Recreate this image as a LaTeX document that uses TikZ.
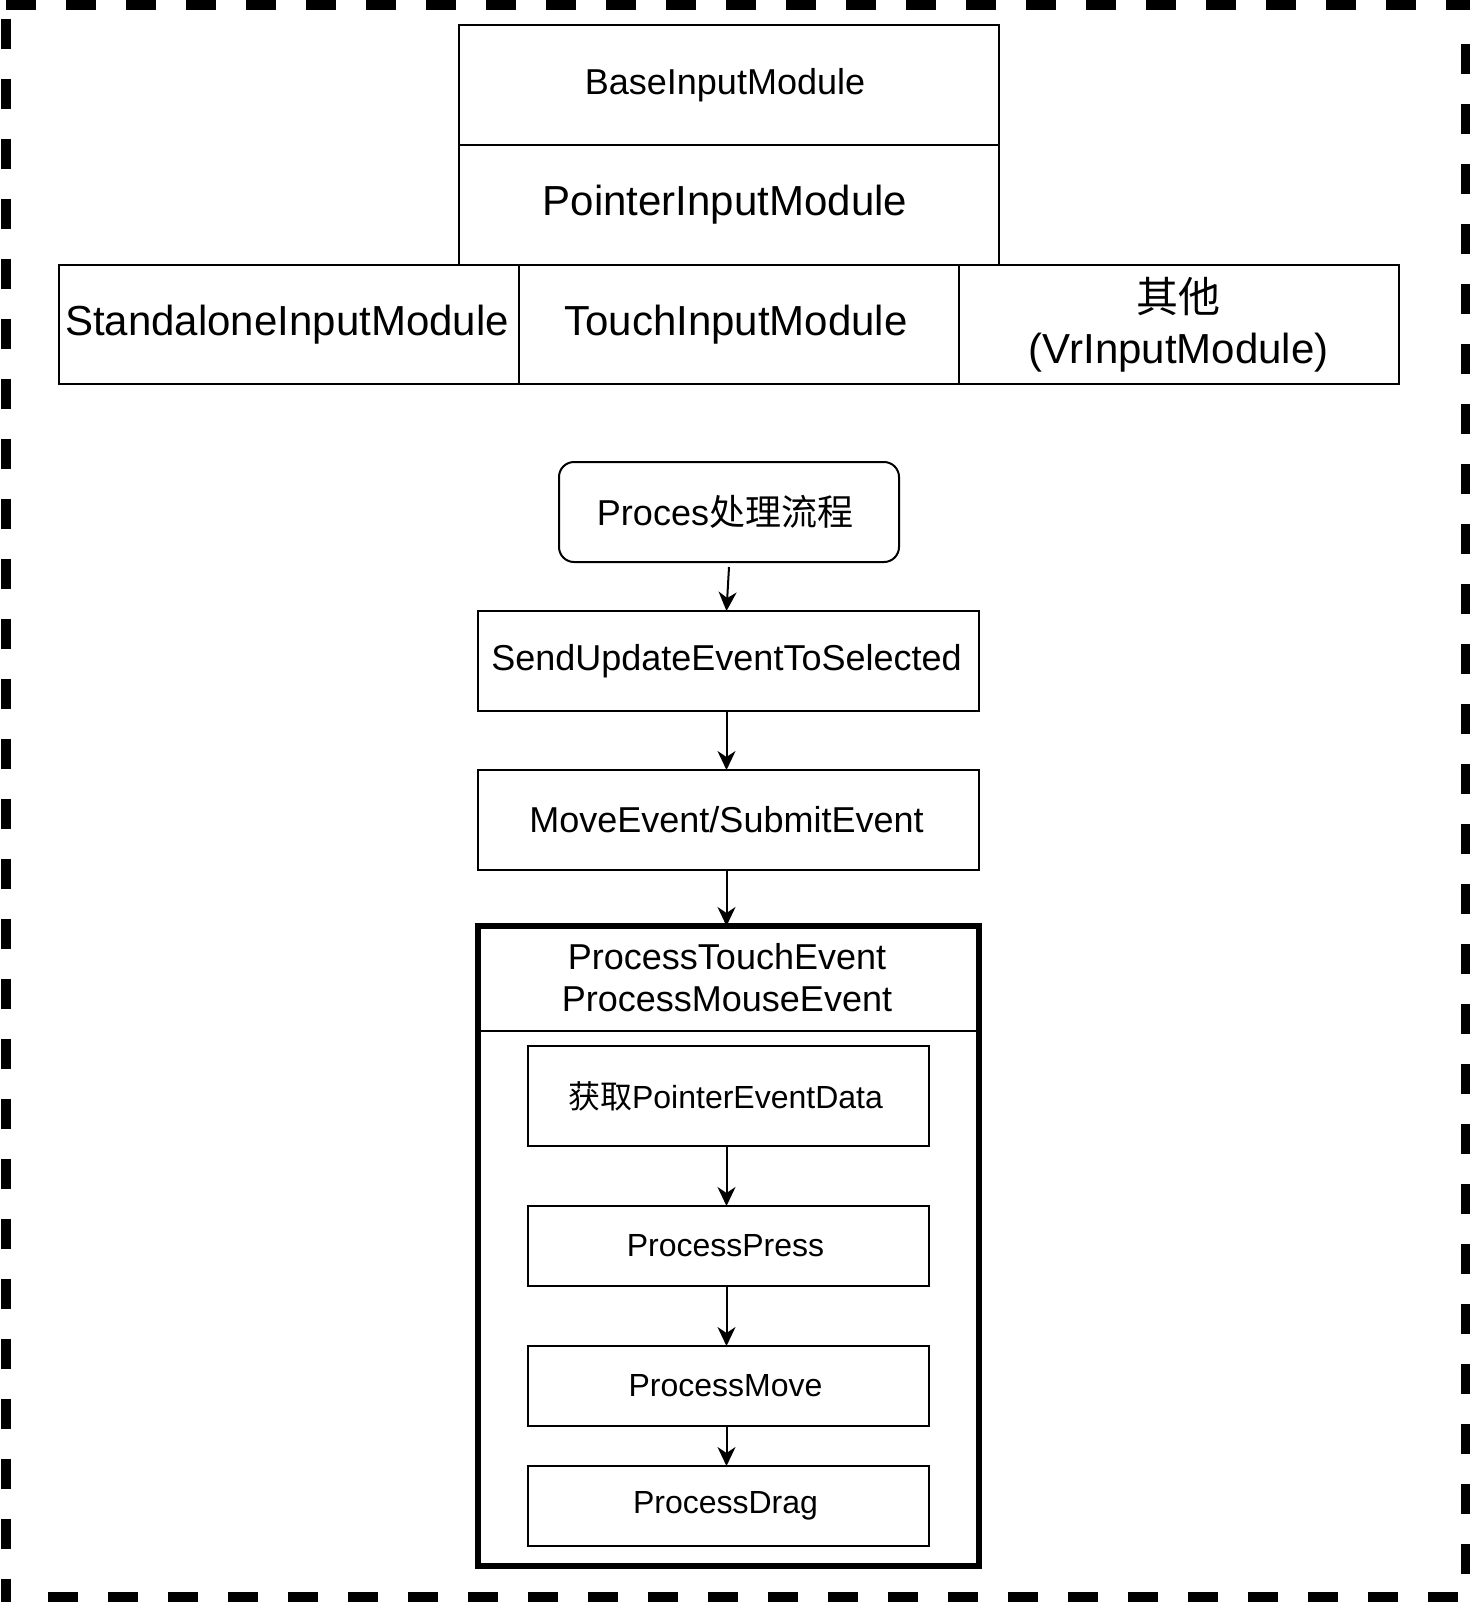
\documentclass[tikz,border=0pt]{standalone}
\usepackage{fontspec}
\setmainfont{Liberation Sans}
\newfontfamily\cjk{Noto Sans CJK SC}
\usetikzlibrary{arrows.meta}
\begin{document}
\begin{tikzpicture}[x=0.5pt,y=-0.5pt,
  box/.style={draw, line width=1pt, inner sep=0pt, outer sep=0pt, align=center},
  arr/.style={-{Stealth[length=9.5pt,width=9pt,inset=3pt]}, line width=1pt},
  bigf/.style={font=\fontsize{21pt}{25.5pt}\selectfont},
  midf/.style={font=\fontsize{18pt}{21pt}\selectfont},
  smlf/.style={font=\fontsize{16pt}{19pt}\selectfont},
  border/.style={line width=5pt, dash pattern=on 15pt off 15pt}]
\useasboundingbox (0,0) rectangle (1470,1602);
% dashed frame
\draw[border] (6,5) -- (1470,5);
\draw[border] (6,19) -- (6,1602);
\draw[border] (48,1597) -- (1470,1597);
\draw[border] (1465.5,44) -- (1465.5,1602);
% class hierarchy
\node[box, midf, minimum width=270pt, minimum height=60pt] (base) at (729,85) {BaseInputModule\hspace*{4pt}};
\node[box, bigf, minimum width=270pt, minimum height=60pt] (pointer) at (729,205) {PointerInputModule\hspace*{4pt}};
\node[box, bigf, minimum width=230pt, minimum height=59.5pt] (standalone) at (289,324.5) {StandaloneInputModule\hspace*{2pt}};
\node[box, bigf, minimum width=220pt, minimum height=59.5pt] (touch) at (739,324.5) {TouchInputModule\hspace*{3pt}};
\node[box, bigf, minimum width=219.75pt, minimum height=59.5pt] (other) at (1178.75,324.5) {{\cjk 其他}\\\hspace*{1pt}(VrInputModule)\hspace*{1pt}};
% process flow
\node[box, midf, rounded corners=7.5pt, minimum width=170pt, minimum height=50pt] (proc) at (729,512) {Proces{\cjk 处理流程}\hspace*{4pt}};
\node[box, midf, minimum width=250.5pt, minimum height=50pt] (send) at (728.5,661) {SendUpdateEventToSelected\hspace*{2pt}};
\node[box, midf, minimum width=250.5pt, minimum height=50pt] (move) at (728.5,820) {MoveEvent/SubmitEvent\hspace*{2pt}};
\node[draw, line width=3pt, inner sep=0pt, outer sep=0pt, minimum width=250.5pt, minimum height=320pt] (cont) at (728.5,1246) {};
\node[midf, align=center] (head) at (727,978) {ProcessTouchEvent\\ProcessMouseEvent};
\coordinate (hl) at (728.5,1031);
\draw[line width=1pt] (cont.west |- hl) -- (cont.east |- hl);
\node[box, smlf, minimum width=200.5pt, minimum height=50pt] (get) at (728.5,1096) {{\cjk 获取}PointerEventData\hspace*{3pt}};
\node[box, smlf, minimum width=200.5pt, minimum height=40pt] (press) at (728.5,1246) {ProcessPress\hspace*{3pt}};
\node[box, smlf, minimum width=200.5pt, minimum height=40pt] (pmove) at (728.5,1386) {ProcessMove\hspace*{3pt}};
\node[box, smlf, minimum width=200.5pt, minimum height=40pt] (drag) at (728.5,1506) {ProcessDrag\hspace*{3pt}};
% connectors
\draw[arr] ([yshift=-2.5pt]proc.south) -- ([xshift=-1pt]send.north);
\draw[arr] ([xshift=-1pt]send.south) -- ([xshift=-1pt]move.north);
\draw[arr] ([xshift=-1pt]move.south) -- ([xshift=-1pt]cont.north);
\draw[arr] ([xshift=-1pt]get.south) -- ([xshift=-1pt]press.north);
\draw[arr] ([xshift=-1pt]press.south) -- ([xshift=-1pt]pmove.north);
\draw[arr] ([xshift=-1pt]pmove.south) -- ([xshift=-1pt]drag.north);
\end{tikzpicture}
\end{document}
